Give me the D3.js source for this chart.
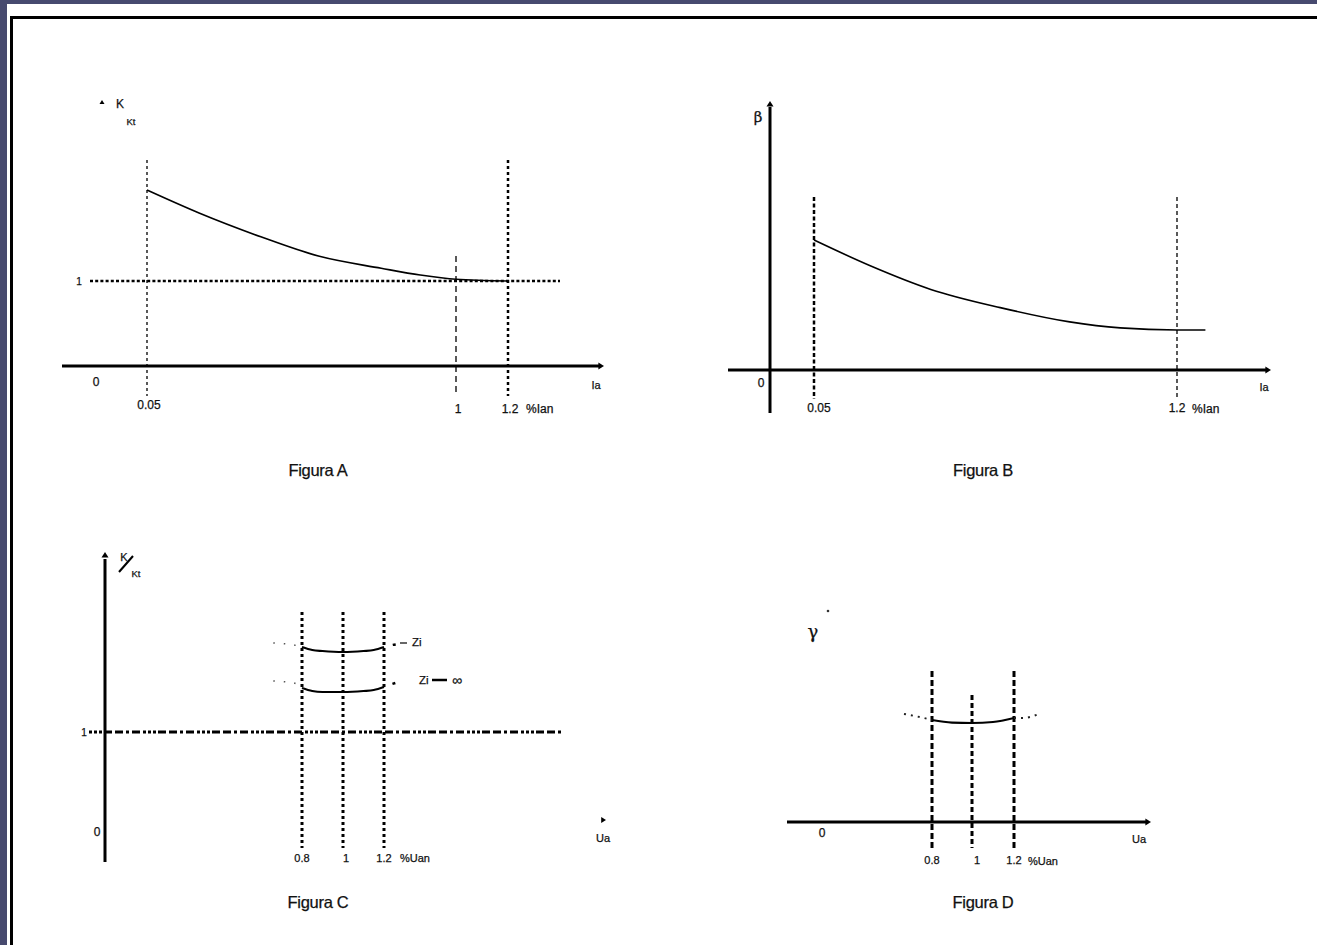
<!DOCTYPE html>
<html>
<head>
<meta charset="utf-8">
<script src="https://cdn.jsdelivr.net/npm/d3@7"></script>
<style>
  body { margin: 0; background: #474a6f; }
  svg { display: block; }
  text { font-family: "Liberation Sans", Arial, sans-serif; fill: #111; stroke: #111; stroke-width: 0.25; }
</style>
</head>
<body>
<div id="chart"></div>
<script>
// ---- data ----
// Figura A : K/Kt vs Ia (%Ian)
const aTicks = [0.05, 1, 1.2];
const aTickLabels = ["0.05", "1", "1.2"];
const aCurveIa = [0.05, 0.21, 0.40, 0.58, 0.77, 0.89, 1.0, 1.2];
const aCurveK = [2.07, 1.80, 1.52, 1.29, 1.15, 1.07, 1.02, 1.0];

// Figura B : beta vs Ia
const bTicks = [0.05, 1.2];
const bTickLabels = ["0.05", "1.2"];
const bCurveIa = [0.05, 0.23, 0.42, 0.64, 0.86, 1.02, 1.2, 1.29];
const bCurveBeta = [0.50, 0.40, 0.31, 0.24, 0.185, 0.162, 0.154, 0.154];

// Figura C : K/Kt vs Ua, two impedance cases
const cTicks = [0.8, 1, 1.2];
const cTickLabels = ["0.8", "1", "1.2"];
const cCurveUa = [0.8, 0.85, 0.9, 1.0, 1.1, 1.15, 1.2];
const cZi = [1.85, 1.82, 1.81, 1.80, 1.81, 1.82, 1.85];
const cZiInf = [1.44, 1.41, 1.40, 1.40, 1.41, 1.42, 1.45];
const cExtUaLeft = [0.66, 0.76];
const cExtUaRight = [1.24, 1.27];
const cZiExtLeft = [1.89, 1.87];
const cZiExtRight = [1.87, 1.88];
const cZiInfExtLeft = [1.51, 1.49];
const cZiInfExtRight = [1.48, 1.50];

// Figura D : gamma vs Ua
const dTicks = [0.8, 1, 1.2];
const dTickLabels = ["0.8", "1", "1.2"];
const dCurveUa = [0.8, 0.9, 1.0, 1.1, 1.2];
const dGamma = [0.51, 0.497, 0.495, 0.50, 0.52];
const dExtUaLeft = [0.66, 0.76];
const dExtUaRight = [1.24, 1.32];
const dExtLeft = [0.54, 0.52];
const dExtRight = [0.52, 0.54];

const W = 1317, H = 945;

const svg = d3.select("#chart").append("svg")
  .attr("width", W)
  .attr("height", H);

// slide frame
svg.append("rect").attr("width", W).attr("height", H).attr("fill", "#474a6f");
svg.append("rect").attr("x", 7).attr("y", 4).attr("width", W).attr("height", H).attr("fill", "#fff");
svg.append("path")
  .attr("d", `M11.5,${H} V17.5 H${W}`)
  .attr("fill", "none").attr("stroke", "#000").attr("stroke-width", 3);

const line = (x, y) => d3.line().x(d => x(d[0])).y(d => y(d[1])).curve(d3.curveMonotoneX);

function hLine(g, x1, x2, y, w, dash) {
  g.append("line").attr("x1", x1).attr("x2", x2).attr("y1", y).attr("y2", y)
    .attr("stroke", "#000").attr("stroke-width", w).attr("stroke-dasharray", dash);
}
function vLine(g, x, y1, y2, w, dash) {
  g.append("line").attr("x1", x).attr("x2", x).attr("y1", y1).attr("y2", y2)
    .attr("stroke", "#000").attr("stroke-width", w).attr("stroke-dasharray", dash);
}
function arrowRight(g, x, y, s) {
  g.append("path").attr("d", `M${x},${y} l${-s * 1.6},${-s} v${2 * s} z`).attr("fill", "#000");
}
function arrowUp(g, x, y, s) {
  g.append("path").attr("d", `M${x},${y} l${-s},${s * 1.6} h${2 * s} z`).attr("fill", "#000");
}
function label(g, x, y, txt, size, anchor) {
  return g.append("text").attr("x", x).attr("y", y)
    .attr("font-size", size).attr("text-anchor", anchor || "middle").text(txt);
}
function title(txt, x, y) {
  label(svg, x, y, txt, 16.5).attr("letter-spacing", -0.3);
}

// ================= Figura A =================
{
  const g = svg.append("g");
  const x = d3.scaleLinear().domain([0, 0.05, 1, 1.2]).range([96, 147, 456, 508]);
  const y = d3.scaleLinear().domain([0, 1]).range([366, 281]);

  hLine(g, 62, 600, y(0), 3, null);
  arrowRight(g, 604, y(0), 3.5);
  arrowUp(g, 102, 100, 2.5);

  hLine(g, 90, 560, y(1), 2.5, "3,2.2");
  vLine(g, x(0.05), 160, 396, 1.3, "3,3");
  vLine(g, x(1), 256, 396, 1.3, "6,4");
  vLine(g, x(1.2), 160, 396, 2.5, "3,3");

  g.append("path")
    .datum(aCurveIa.map((v, i) => [v, aCurveK[i]]))
    .attr("d", line(x, y))
    .attr("fill", "none").attr("stroke", "#000").attr("stroke-width", 1.6);

  aTicks.forEach((v, i) => label(g, x(v) + 2, i === 0 ? 409 : 413, aTickLabels[i], 12));
  label(g, 526, 413, "%Ian", 12, "start");
  label(g, x(0), 386, "0", 12);
  label(g, 79, 285, "1", 10);
  label(g, 596, 389, "Ia", 11);
  label(g, 120, 108, "K", 12);
  label(g, 131, 125, "Kt", 9.5);
  title("Figura A", 318, 476);
}

// ================= Figura B =================
{
  const g = svg.append("g");
  const x = d3.scaleLinear().domain([0, 0.05, 1.2]).range([770, 814, 1177]);
  const y = d3.scaleLinear().domain([0, 1]).range([370, 110]);

  hLine(g, 728, 1266, y(0), 3, null);
  arrowRight(g, 1271, y(0), 3.5);
  vLine(g, x(0), 107, 413, 3, null);
  arrowUp(g, x(0), 101, 3.5);

  vLine(g, x(0.05), 197, 399, 2.5, "4,2.5");
  vLine(g, x(1.2), 197, 400, 1.3, "4,3");

  g.append("path")
    .datum(bCurveIa.map((v, i) => [v, bCurveBeta[i]]))
    .attr("d", line(x, y))
    .attr("fill", "none").attr("stroke", "#000").attr("stroke-width", 1.6);

  bTicks.forEach((v, i) => label(g, x(v) + (i === 0 ? 5 : 0), 412, bTickLabels[i], 12));
  label(g, 1192, 413, "%Ian", 12, "start");
  label(g, 761, 387, "0", 12);
  label(g, 1264, 391, "Ia", 11);
  g.append("text").attr("x", 758).attr("y", 122).attr("font-size", 15)
    .attr("text-anchor", "middle").style("font-family", "'DejaVu Serif', serif").text("β");
  title("Figura B", 983, 476);
}

// ================= Figura C =================
{
  const g = svg.append("g");
  const x = d3.scaleLinear().domain([0.8, 1.2]).range([302, 384]);
  const y = d3.scaleLinear().domain([0, 1]).range([832, 732]);

  vLine(g, 105, 559, 862, 3, null);
  arrowUp(g, 105, 552, 3.5);
  arrowRight(g, 606, 820, 3);

  hLine(g, 89, 562, y(1), 3, "3,2,3,2,3,2,8,3,8,3,3,3,8,3");
  cTicks.forEach(v => vLine(g, x(v), 612, 848, 3, "3,3"));

  [[cZi, cZiExtLeft, cZiExtRight], [cZiInf, cZiInfExtLeft, cZiInfExtRight]].forEach(([vals, l, r]) => {
    g.append("path")
      .datum(cCurveUa.map((v, i) => [v, vals[i]]))
      .attr("d", line(x, y))
      .attr("fill", "none").attr("stroke", "#000").attr("stroke-width", 2.2);
    g.append("path")
      .datum(cExtUaLeft.map((v, i) => [v, l[i]]).concat([[cCurveUa[0], vals[0]]]))
      .attr("d", line(x, y))
      .attr("fill", "none").attr("stroke", "#555").attr("stroke-width", 1.5).attr("stroke-dasharray", "1.5,9");
    g.append("path")
      .datum([[cCurveUa[cCurveUa.length - 1], vals[vals.length - 1]]].concat(cExtUaRight.map((v, i) => [v, r[i]])))
      .attr("d", line(x, y))
      .attr("fill", "none").attr("stroke", "#000").attr("stroke-width", 2.5).attr("stroke-dasharray", "0,9,3,20");
  });
  hLine(g, 400, 407, 643, 1.2, null);

  cTicks.forEach((v, i) => label(g, x(v) + (i === 1 ? 3 : 0), 862, cTickLabels[i], 11));
  label(g, 400, 862, "%Uan", 11, "start");
  label(g, 84, 736, "1", 10);
  label(g, 97, 836, "0", 12);
  label(g, 603, 842, "Ua", 11);
  label(g, 412, 646, "Zi", 11.5, "start");
  label(g, 419, 684, "Zi", 11.5, "start");
  hLine(g, 432, 447, 680, 2.5, null);
  label(g, 452, 685, "∞", 14, "start");
  label(g, 124, 561, "K", 11);
  g.append("line").attr("x1", 119).attr("y1", 572).attr("x2", 133).attr("y2", 556)
    .attr("stroke", "#000").attr("stroke-width", 2);
  label(g, 136, 577, "Kt", 9.5);
  title("Figura C", 318, 908);
}

// ================= Figura D =================
{
  const g = svg.append("g");
  const x = d3.scaleLinear().domain([0.8, 1, 1.2]).range([932, 972, 1014]);
  const y = d3.scaleLinear().domain([0, 1]).range([822, 622]);

  hLine(g, 787, 1146, y(0), 3, null);
  arrowRight(g, 1151, y(0), 3.5);

  vLine(g, x(0.8), 671, 848, 3, "6,3");
  vLine(g, x(1), 695, 848, 3, "5,3");
  vLine(g, x(1.2), 671, 848, 3, "6,3");

  g.append("path")
    .datum(dCurveUa.map((v, i) => [v, dGamma[i]]))
    .attr("d", line(x, y))
    .attr("fill", "none").attr("stroke", "#000").attr("stroke-width", 2.2);
  g.append("path")
    .datum(dExtUaLeft.map((v, i) => [v, dExtLeft[i]]).concat([[dCurveUa[0], dGamma[0]]]))
    .attr("d", line(x, y))
    .attr("fill", "none").attr("stroke", "#222").attr("stroke-width", 2).attr("stroke-dasharray", "2,5");
  g.append("path")
    .datum([[dCurveUa[dCurveUa.length - 1], dGamma[dGamma.length - 1]]].concat(dExtUaRight.map((v, i) => [v, dExtRight[i]])))
    .attr("d", line(x, y))
    .attr("fill", "none").attr("stroke", "#222").attr("stroke-width", 2).attr("stroke-dasharray", "2,5");

  dTicks.forEach((v, i) => label(g, x(v) + (i === 1 ? 5 : 0), 864, dTickLabels[i], 11));
  label(g, 1028, 865, "%Uan", 11, "start");
  label(g, 822, 837, "0", 12);
  label(g, 1139, 843, "Ua", 11);
  g.append("text").attr("x", 813).attr("y", 638).attr("font-size", 18)
    .attr("text-anchor", "middle").style("font-family", "'DejaVu Serif', serif").text("γ");
  g.append("circle").attr("cx", 828).attr("cy", 611).attr("r", 1.3).attr("fill", "#333");
  title("Figura D", 983, 908);
}
</script>
</body>
</html>
